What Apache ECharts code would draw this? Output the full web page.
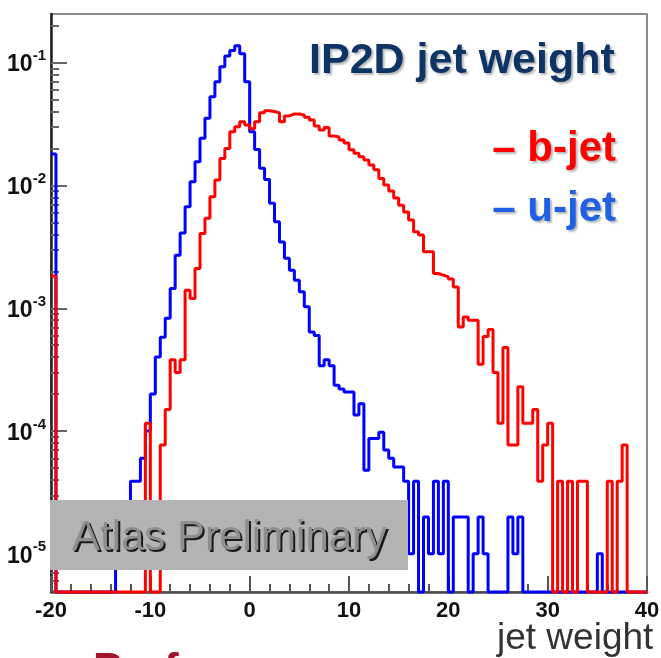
<!DOCTYPE html>
<html>
<head>
<meta charset="utf-8">
<script src="https://cdn.jsdelivr.net/npm/echarts@6/dist/echarts.min.js"></script>
<style>
html, body { margin: 0; padding: 0; background: #ffffff; }
#main { width: 661px; height: 658px; }
</style>
</head>
<body>
<div id="main"></div>
<script>
// Histogram binning: 120 bins of width 0.5 covering -20 .. 40
const binLow = -20;
const binWidth = 0.5;

// b-jet normalised entries per bin
const bJet = [
  0.00183, 0, 0, 0, 0, 0, 0, 0, 0, 0,
  0, 0, 0, 0, 0, 0, 0, 0, 0, 1.16e-4,
  0, 0, 7.7e-5, 1.5e-4, 3.8e-4, 3.0e-4, 3.8e-4, 1.40e-3, 1.20e-3, 2.11e-3,
  4.07e-3, 5.40e-3, 8.10e-3, 1.11e-2, 1.66e-2, 2.0e-2, 2.74e-2, 3.01e-2, 3.30e-2, 3.10e-2,
  2.90e-2, 3.30e-2, 3.90e-2, 4.06e-2, 4.0e-2, 3.9e-2, 3.3e-2, 3.68e-2, 3.82e-2, 3.82e-2,
  3.75e-2, 3.6e-2, 3.41e-2, 3.05e-2, 2.83e-2, 2.97e-2, 2.53e-2, 2.48e-2, 2.34e-2, 2.22e-2,
  1.95e-2, 1.83e-2, 1.71e-2, 1.61e-2, 1.47e-2, 1.34e-2, 1.14e-2, 1.01e-2, 9.0e-3, 7.9e-3,
  6.9e-3, 6.07e-3, 5.22e-3, 4.2e-3, 3.94e-3, 2.88e-3, 2.88e-3, 1.92e-3, 1.86e-3, 1.80e-3,
  1.73e-3, 1.49e-3, 7.05e-4, 8.5e-4, 8.0e-4, 8.0e-4, 3.5e-4, 5.9e-4, 6.7e-4, 3.0e-4,
  1.16e-4, 4.8e-4, 7.7e-5, 7.7e-5, 2.3e-4, 1.16e-4, 1.16e-4, 1.5e-4, 3.9e-5, 7.7e-5,
  1.16e-4, 0, 3.9e-5, 0, 3.9e-5, 0, 3.9e-5, 3.9e-5, 0, 0,
  0, 0, 3.9e-5, 0, 3.9e-5, 7.7e-5, 0, 0, 0, 0
];

// u-jet normalised entries per bin
const uJet = [
  0.018, 0, 0, 0, 0, 0, 0, 0, 0, 0,
  0, 0, 0, 1e-5, 2e-5, 2e-5, 3.9e-5, 3.9e-5, 6.0e-5, 1.0e-4,
  2.0e-4, 4.0e-4, 5.8e-4, 8.3e-4, 1.45e-3, 2.7e-3, 4.1e-3, 6.7e-3, 1.07e-2, 1.56e-2,
  2.42e-2, 3.52e-2, 5.28e-2, 7.0e-2, 9.27e-2, 0.1135, 0.1253, 0.137, 0.118, 0.070,
  0.0274, 0.0196, 0.0138, 0.0112, 7.15e-3, 5.06e-3, 3.47e-3, 2.55e-3, 2.04e-3, 1.69e-3,
  1.36e-3, 1.03e-3, 6.4e-4, 6.0e-4, 3.4e-4, 3.8e-4, 3.4e-4, 2.36e-4, 2.2e-4, 2.08e-4,
  2.08e-4, 1.35e-4, 1.67e-4, 4.8e-5, 8.7e-5, 8.7e-5, 9.8e-5, 7.0e-5, 6.0e-5, 5.1e-5,
  5.1e-5, 3.9e-5, 1.0e-5, 3.9e-5, 0, 2e-5, 1e-5, 3.9e-5, 1e-5, 3.9e-5,
  0, 2e-5, 2e-5, 2e-5, 0, 1e-5, 2e-5, 1e-5, 0, 0,
  0, 0, 2e-5, 1e-5, 2e-5, 0, 0, 0, 0, 0,
  0, 0, 0, 0, 0, 0, 0, 0, 0, 0,
  1e-5, 0, 0, 0, 0, 0, 0, 0, 0, 0
];

// Axis ranges and tick values
const xTicks = [-20, -10, 0, 10, 20, 30, 40];
const yDecades = [1e-5, 1e-4, 1e-3, 1e-2, 1e-1];
const yMin = 4.89e-6;
const yMax = 0.249;

// log-scale minor ticks (2..9 x 10^n) inside the y range
const yMinorTicks = [];
for (let e = -6; e <= -1; e++) {
  for (let m = 2; m <= 9; m++) {
    const t = m * Math.pow(10, e);
    if (t > yMin && t < yMax) yMinorTicks.push(t);
  }
}

const narrow = "'Liberation Sans Narrow', 'Arial Narrow', 'Liberation Sans', sans-serif";
const sans = "'Liberation Sans', Arial, sans-serif";

// Step outline of a histogram; empty bins sit on the axis floor
function histogramOutline(values) {
  const pts = values.map((v, i) => [binLow + i * binWidth, v > 0 ? v : yMin]);
  const last = values[values.length - 1];
  pts.push([binLow + values.length * binWidth, last > 0 ? last : yMin]);
  return pts;
}

function decadeLabel(v) {
  const p = Math.log10(v);
  const e = Math.round(p);
  if (Math.abs(p - e) > 0.01) return '';
  return '{b|10}{s|' + e + '}';
}

const chart = echarts.init(document.getElementById('main'), null, { renderer: 'canvas' });

chart.setOption({
  backgroundColor: '#ffffff',
  animation: false,
  title: {
    text: 'IP2D jet weight',
    left: 309,
    top: 40,
    padding: 0,
    textStyle: {
      fontFamily: sans,
      fontSize: 43,
      fontWeight: 'bold',
      color: '#0e3466',
      textShadowColor: 'rgba(0,0,0,0.28)',
      textShadowOffsetX: 2,
      textShadowOffsetY: 2,
      textShadowBlur: 2
    }
  },
  legend: {
    orient: 'vertical',
    right: 45,
    top: 119,
    padding: 0,
    itemGap: 0,
    itemWidth: 0,
    itemHeight: 0,
    icon: 'none',
    selectedMode: false,
    formatter: '\u2013 {name}',
    data: [
      { name: 'b-jet', textStyle: { color: '#ff0000' } },
      { name: 'u-jet', textStyle: { color: '#1f60e4' } }
    ],
    textStyle: {
      fontFamily: sans,
      fontSize: 42,
      fontWeight: 'bold',
      lineHeight: 60,
      textShadowColor: 'rgba(0,0,0,0.28)',
      textShadowOffsetX: 2,
      textShadowOffsetY: 2,
      textShadowBlur: 2
    }
  },
  grid: {
    left: 51,
    right: 14,
    top: 14,
    bottom: 66,
    containLabel: false,
    outerBoundsMode: 'none',
    show: true,
    borderColor: '#8c8c8c',
    borderWidth: 2,
    backgroundColor: 'transparent'
  },
  xAxis: {
    type: 'value',
    min: xTicks[0],
    max: xTicks[xTicks.length - 1],
    interval: 10,
    axisLine: { onZero: false, lineStyle: { color: '#4a4a4a', width: 2.5 } },
    axisTick: { inside: true, length: 16, lineStyle: { color: '#555555', width: 2 } },
    minorTick: { show: true, splitNumber: 5, length: 8, lineStyle: { color: '#555555', width: 2 } },
    splitLine: { show: false },
    axisLabel: {
      margin: 8,
      fontFamily: narrow,
      fontSize: 22,
      fontWeight: 'bold',
      color: '#111111'
    }
  },
  yAxis: [
    {
      type: 'log',
      logBase: 10,
      min: yMin,
      max: yMax,
      position: 'left',
      offset: 0,
      axisLine: { show: true, onZero: false, lineStyle: { color: '#222222', width: 2.5 } },
      axisTick: { show: true, inside: true, length: 16, customValues: yDecades, lineStyle: { color: '#666666', width: 2 } },
      splitLine: { show: false },
      axisLabel: {
        customValues: yDecades,
        margin: 5,
        formatter: decadeLabel,
        rich: {
          b: { fontFamily: narrow, fontSize: 23, fontWeight: 'bold', color: '#111111', verticalAlign: 'bottom', lineHeight: 28 },
          s: { fontFamily: narrow, fontSize: 15, fontWeight: 'bold', color: '#111111', verticalAlign: 'top', lineHeight: 15 }
        }
      }
    },
    {
      type: 'log',
      logBase: 10,
      min: yMin,
      max: yMax,
      position: 'left',
      offset: 0,
      axisLine: { show: false, onZero: false },
      axisTick: { show: true, inside: true, length: 8, customValues: yMinorTicks, lineStyle: { color: '#666666', width: 2 } },
      axisLabel: { show: false },
      splitLine: { show: false }
    }
  ],
  series: [
    {
      name: 'u-jet',
      type: 'line',
      step: 'end',
      yAxisIndex: 0,
      showSymbol: false,
      clip: false,
      z: 3,
      lineStyle: { color: '#0000ff', width: 3 },
      itemStyle: { color: '#1f60e4' },
      data: histogramOutline(uJet)
    },
    {
      name: 'b-jet',
      type: 'line',
      step: 'end',
      yAxisIndex: 0,
      showSymbol: false,
      clip: false,
      z: 4,
      lineStyle: { color: '#ff0000', width: 3 },
      itemStyle: { color: '#ff0000' },
      data: histogramOutline(bJet)
    }
  ],
  graphic: [
    {
      type: 'rect',
      z: 50,
      shape: { x: 50, y: 500, width: 358, height: 70 },
      style: { fill: '#b3b3b3' }
    },
    {
      // dark drop shadow of the stamp text
      type: 'text',
      z: 51,
      left: 74,
      top: 519,
      style: {
        text: 'Atlas Preliminary',
        font: '42px ' + sans,
        fill: '#1a1a1a'
      }
    },
    {
      type: 'text',
      z: 52,
      left: 72,
      top: 517,
      style: {
        text: 'Atlas Preliminary',
        font: '42px ' + sans,
        fill: '#8e8e8e'
      }
    },
    {
      // x-axis title
      type: 'text',
      z: 51,
      left: 497,
      top: 620,
      style: {
        text: 'jet weight',
        font: '37px ' + sans,
        fill: '#333333'
      }
    },
    {
      type: 'text',
      z: 51,
      left: 93,
      top: 650,
      style: {
        text: 'Performance',
        font: 'bold 44px ' + sans,
        fill: '#a3142e'
      }
    }
  ]
});
</script>
</body>
</html>
